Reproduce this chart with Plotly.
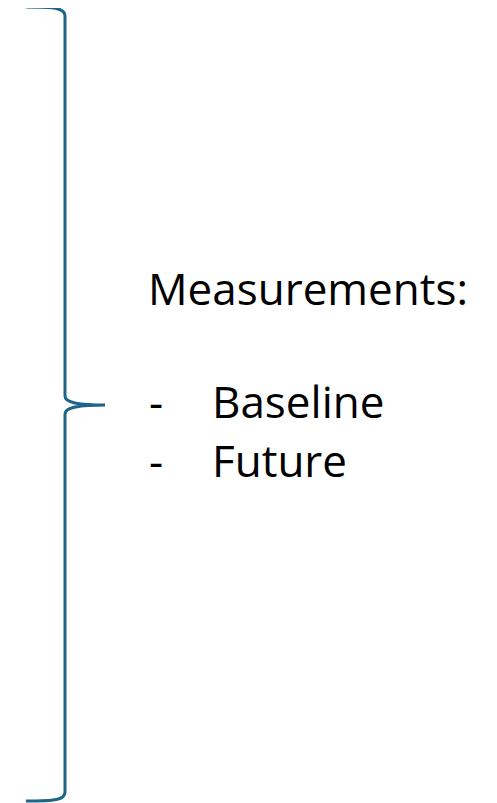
import plotly.graph_objects as go

# ---- content ----
title_text = "Measurements:"
bullet_char = "-"
items = ["Baseline", "Future"]

# ---- brace key points (page-pixel data units) ----
brace_x = {"end": 26, "spine": 65, "tip": 105}
brace_y = {"top": 7, "tip": 405, "bottom": 801}
brace_curve = 9  # curl length

# text anchor rows (cap-middle y positions)
title_y = 288
item_ys = [401, 460]
title_x = 146
bullet_x = 147
item_x = 210

W, H = 497, 803
OFF = 8  # page body margin
brace_color = "#1D6489"
font_family = "Open Sans"
font_size = 44

xe, xs, xt = brace_x["end"], brace_x["spine"], brace_x["tip"]
yt, ym, yb = brace_y["top"], brace_y["tip"], brace_y["bottom"]
c = brace_curve

path = (
    f"M {xe} {yt} C {xe+29} {yt}, {xs} {yt+1}, {xs} {yt+c} "
    f"L {xs} {ym-c} C {xs} {ym-3}, {xs+10} {ym}, {xt} {ym} "
    f"M {xt} {ym} C {xs+10} {ym}, {xs} {ym+3}, {xs} {ym+c} "
    f"L {xs} {yb-c} C {xs} {yb-1}, {xe+29} {yb}, {xe} {yb}"
)

fig = go.Figure()
fig.add_trace(go.Scatter(x=[OFF, W], y=[OFF, H], mode="markers",
                         marker=dict(opacity=0), hoverinfo="skip", showlegend=False))
fig.add_shape(type="path", path=path, xref="x", yref="y",
              line=dict(color=brace_color, width=3))

annots = [dict(x=title_x, y=title_y, text=title_text)]
for yy, it in zip(item_ys, items):
    annots.append(dict(x=bullet_x, y=yy, text=bullet_char))
    annots.append(dict(x=item_x, y=yy, text=it))
for a in annots:
    fig.add_annotation(x=a["x"], y=a["y"], text=a["text"], xref="x", yref="y",
                       xanchor="left", yanchor="middle", showarrow=False,
                       font=dict(family=font_family, size=font_size, color="#000000"))

fig.update_xaxes(range=[OFF, W], visible=False, fixedrange=True)
fig.update_yaxes(range=[H, OFF], visible=False, fixedrange=True)
fig.update_layout(width=W - OFF, height=H - OFF, margin=dict(l=0, r=0, t=0, b=0),
                  plot_bgcolor="white", paper_bgcolor="white")

fig.write_html("out.html", config={"displayModeBar": False})
